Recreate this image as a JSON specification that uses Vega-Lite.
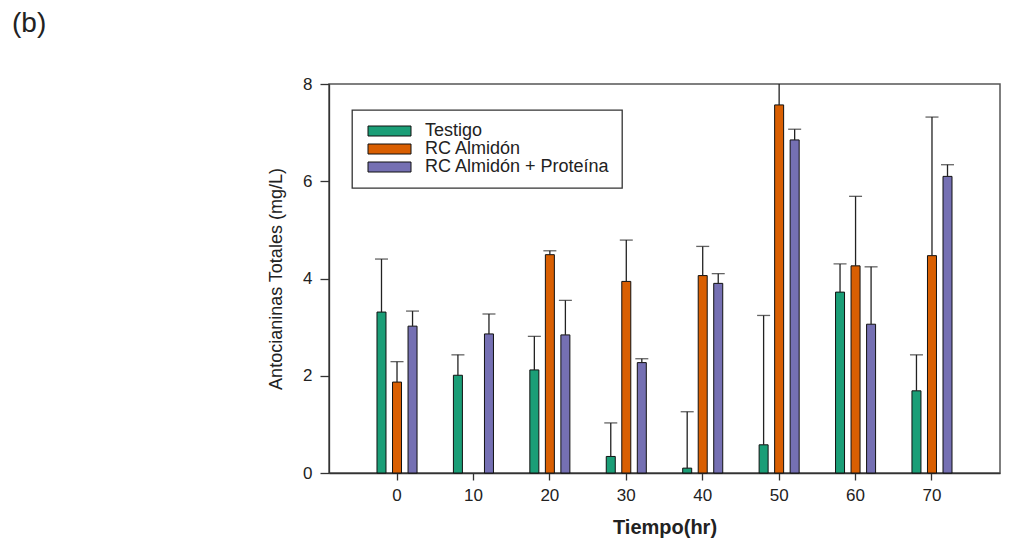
{
  "$schema": "https://vega.github.io/schema/vega-lite/v6.json",
  "autosize": "none",
  "width": 671,
  "height": 389,
  "padding": {"left": 329, "top": 84, "right": 13, "bottom": 66},
  "background": "white",
  "title": {
    "text": "(b)",
    "anchor": "start",
    "frame": "group",
    "dx": -317,
    "dy": -33,
    "fontSize": 28,
    "fontWeight": "normal",
    "font": "Liberation Sans",
    "color": "#222222"
  },
  "config": {
    "font": "Liberation Sans",
    "view": {"stroke": "#555555", "strokeWidth": 1.5},
    "axis": {
      "grid": false,
      "domainColor": "#333333",
      "domainWidth": 1.3,
      "tickColor": "#333333",
      "tickWidth": 1.3,
      "labelColor": "#222222",
      "titleColor": "#222222",
      "labelFont": "Liberation Sans",
      "titleFont": "Liberation Sans"
    },
    "legend": {
      "orient": "none",
      "legendX": 23,
      "legendY": 26,
      "strokeColor": "#333333",
      "strokeWidth": 1.3,
      "fillColor": "white",
      "padding": 12,
      "symbolType": "M-1,-1H7.6V1H-1Z",
      "symbolSize": 100,
      "symbolStrokeColor": "#111111",
      "symbolStrokeWidth": 1,
      "labelFontSize": 18,
      "labelFont": "Liberation Sans",
      "labelColor": "#222222",
      "labelOffset": 43,
      "rowPadding": -1.5,
      "labelLimit": 400
    }
  },
  "data": {
    "values": [
      {"t": 0, "s": "Testigo", "v": 3.31, "hi": 4.40},
      {"t": 0, "s": "RC Almidón", "v": 1.87, "hi": 2.29},
      {"t": 0, "s": "RC Almidón + Proteína", "v": 3.02, "hi": 3.33},
      {"t": 10, "s": "Testigo", "v": 2.01, "hi": 2.43},
      {"t": 10, "s": "RC Almidón + Proteína", "v": 2.86, "hi": 3.27},
      {"t": 20, "s": "Testigo", "v": 2.12, "hi": 2.81},
      {"t": 20, "s": "RC Almidón", "v": 4.49, "hi": 4.57},
      {"t": 20, "s": "RC Almidón + Proteína", "v": 2.84, "hi": 3.55},
      {"t": 30, "s": "Testigo", "v": 0.34, "hi": 1.03},
      {"t": 30, "s": "RC Almidón", "v": 3.94, "hi": 4.79},
      {"t": 30, "s": "RC Almidón + Proteína", "v": 2.27, "hi": 2.35},
      {"t": 40, "s": "Testigo", "v": 0.10, "hi": 1.26},
      {"t": 40, "s": "RC Almidón", "v": 4.06, "hi": 4.66},
      {"t": 40, "s": "RC Almidón + Proteína", "v": 3.90, "hi": 4.10},
      {"t": 50, "s": "Testigo", "v": 0.58, "hi": 3.24},
      {"t": 50, "s": "RC Almidón", "v": 7.57, "hi": 8.60},
      {"t": 50, "s": "RC Almidón + Proteína", "v": 6.85, "hi": 7.07},
      {"t": 60, "s": "Testigo", "v": 3.72, "hi": 4.30},
      {"t": 60, "s": "RC Almidón", "v": 4.26, "hi": 5.69},
      {"t": 60, "s": "RC Almidón + Proteína", "v": 3.06, "hi": 4.24},
      {"t": 70, "s": "Testigo", "v": 1.69, "hi": 2.43},
      {"t": 70, "s": "RC Almidón", "v": 4.47, "hi": 7.32},
      {"t": 70, "s": "RC Almidón + Proteína", "v": 6.10, "hi": 6.34}
    ]
  },
  "encoding": {
    "x": {
      "field": "t",
      "type": "ordinal",
      "scale": {"paddingInner": 0.476, "paddingOuter": 0.628},
      "axis": {
        "title": "Tiempo(hr)",
        "labelAngle": 0,
        "labelFontSize": 17,
        "labelPadding": 7,
        "tickSize": 7,
        "titleFontSize": 20,
        "titleFontWeight": "bold",
        "titlePadding": 14
      }
    },
    "xOffset": {
      "field": "s",
      "type": "nominal",
      "scale": {
        "domain": ["Testigo", "RC Almidón", "RC Almidón + Proteína"],
        "paddingInner": 0.42,
        "paddingOuter": 0
      }
    }
  },
  "layer": [
    {
      "mark": {"type": "bar", "stroke": "#111111", "strokeWidth": 1},
      "encoding": {
        "y": {
          "field": "v",
          "type": "quantitative",
          "scale": {"domain": [0, 8], "nice": false},
          "axis": {
            "title": "Antocianinas Totales (mg/L)",
            "values": [0, 2, 4, 6, 8],
            "labelFontSize": 17,
            "labelPadding": 8,
            "tickSize": 9,
            "titleFontSize": 18,
            "titleFontWeight": "normal",
            "titlePadding": 17
          }
        },
        "color": {
          "field": "s",
          "type": "nominal",
          "scale": {
            "domain": ["Testigo", "RC Almidón", "RC Almidón + Proteína"],
            "range": ["#1b9e77", "#d95f02", "#7570b3"]
          },
          "legend": {"title": null}
        }
      }
    },
    {
      "mark": {"type": "rule", "color": "#222222", "strokeWidth": 1.3, "clip": true},
      "encoding": {
        "y": {"field": "v", "type": "quantitative"},
        "y2": {"field": "hi"}
      }
    },
    {
      "mark": {"type": "tick", "color": "#222222", "thickness": 1.3, "size": 13, "clip": true},
      "encoding": {
        "y": {"field": "hi", "type": "quantitative"}
      }
    }
  ]
}
